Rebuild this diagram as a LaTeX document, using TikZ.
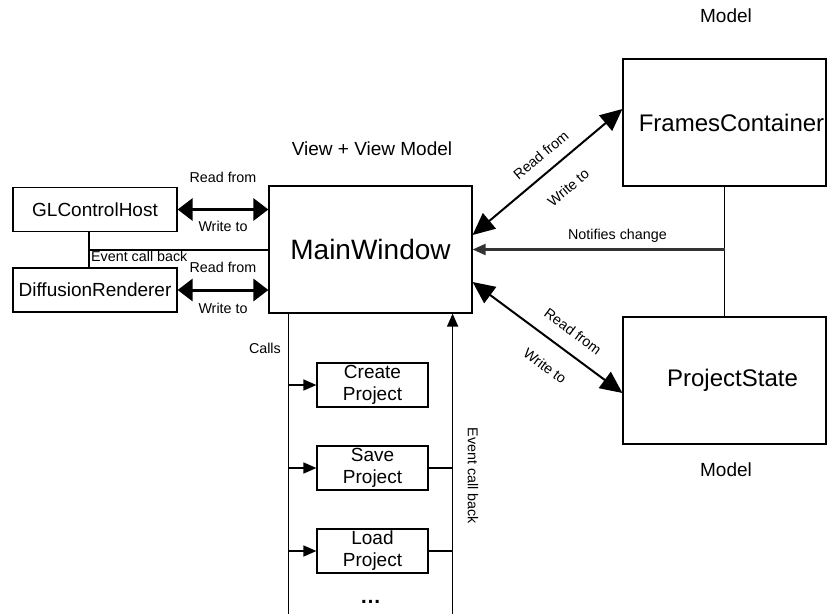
\documentclass[tikz,border=0pt]{standalone}
\usepackage{fontspec}
\setmainfont{Liberation Sans}
\usetikzlibrary{arrows.meta,positioning}

\tikzset{
  box/.style={draw, line width=1.2pt, minimum width=203pt, minimum height=127pt,
    inner sep=0pt, font=\fontsize{24}{28}\selectfont},
  sidebox/.style={draw, line width=1.2pt, minimum width=164pt, minimum height=44pt,
    inner sep=0pt, font=\fontsize{19}{22}\selectfont},
  cmdbox/.style={draw, line width=1.2pt, minimum width=111pt, minimum height=44pt,
    inner sep=0pt, align=center, font=\fontsize{19}{22}\selectfont},
  lbl/.style={font=\fontsize{14.3}{16}\selectfont, inner sep=1pt},
  title/.style={font=\fontsize{19}{22}\selectfont},
  link/.style={line width=1.6pt},
  rw/.style={line width=3pt,
    {Triangle[length=15pt,width=22pt]}-{Triangle[length=15pt,width=22pt]}},
  rwdiag/.style={line width=2pt,
    {Triangle[length=22pt,width=20pt]}-{Triangle[length=22pt,width=20pt]}},
  notify/.style={line width=2.2pt, draw=black!80, -{Triangle[length=13pt,width=11pt]}},
  call/.style={line width=1.6pt, -{Triangle[length=13pt,width=11pt]}},
}

\begin{document}
\begin{tikzpicture}[x=1pt,y=-1pt]
\useasboundingbox (0,0) rectangle (827,614);
\coordinate (bottom) at (0,614);

% view model and the two models
\node[box, font=\fontsize{28}{32}\selectfont] (main) at (370.5,249.5) {MainWindow};
\node[box] (frames) at (724.5,122.5) {\hspace{14pt}FramesContainer};
\node[box] (project) at (724.5,380.5) {\hspace{16pt}\raisebox{-6pt}{ProjectState}};
\node[title] (viewlbl) at (372,149) {View + View Model};
\node[title] (modeltop) at (726,16) {Model};
\node[title] (modelbot) at (726,470) {Model};

% renderers on the left
\node[sidebox] (gl) at (95,209.5) {GLControlHost};
\node[sidebox] (diff) at (95,290) {DiffusionRenderer};

% commands
\node[cmdbox] (create) at (372.5,385) {Create\\Project};
\node[cmdbox] (save) at (372.5,468) {Save\\Project};
\node[cmdbox] (load) at (372.5,551) {Load\\Project};
\node[title, font=\fontsize{21}{22}\selectfont\bfseries] (more) at (370.5,602) {\ldots};

% read/write links
\draw[rw] (gl.east) -- (gl.east -| main.west)
  node[lbl, midway, above=24pt] (glread) {Read from}
  node[lbl, midway, below=9pt] (glwrite) {Write to};
\draw[rw] (diff.east) -- (diff.east -| main.west)
  node[lbl, midway, above=15pt] (diffread) {Read from}
  node[lbl, midway, below=11pt] (diffwrite) {Write to};
\draw[rwdiag] ([yshift=14.5pt]main.east) -- ([yshift=13.5pt]frames.west)
  node[lbl, sloped, pos=0.53, above=10pt] (frread) {Read from}
  node[lbl, sloped, pos=0.53, below=18pt] (frwrite) {Write to};
\draw[rwdiag] ([yshift=-32.5pt]main.east) -- ([yshift=-12.5pt]project.west)
  node[lbl, sloped, pos=0.59, above=13pt] (psread) {Read from}
  node[lbl, sloped, pos=0.58, below=17pt] (pswrite) {Write to};

% event call back from the renderers
\coordinate (cb) at (89,250);
\draw[link] (gl.south -| cb) -- (diff.north -| cb);
\draw[link] (cb) -- (cb -| main.west);
\node[lbl, anchor=north west] (cblbl) at ([xshift=1pt]cb) {Event call back};

% models notify the view model
\draw[link] (frames.south) -- (project.north);
\draw[notify] (frames.south |- main.east) -- (main.east)
  node[lbl, pos=0.425, above=5pt] (notelbl) {Notifies change};

% calls and call backs
\coordinate (callstop) at ([xshift=20pt]main.south west);
\coordinate (backtop) at ([xshift=-20pt]main.south east);
\draw[link] (callstop) -- (callstop |- bottom);
\draw[call] (backtop |- bottom) -- (backtop);
\foreach \cmd in {create,save,load}
  \draw[call] (callstop |- \cmd.west) -- (\cmd.west);
\foreach \cmd in {save,load}
  \draw[link] (\cmd.east) -- (\cmd.east -| backtop);
\node[lbl, anchor=east] (callslbl) at (282,348) {Calls};
\node[lbl, rotate=-90] (backlbl) at (473,476) {Event call back};
\end{tikzpicture}
\end{document}
